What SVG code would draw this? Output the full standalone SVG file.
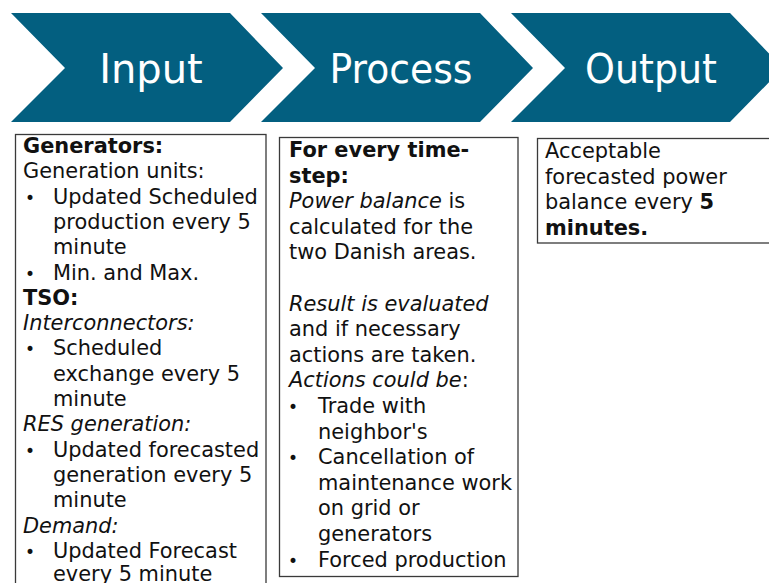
<svg xmlns="http://www.w3.org/2000/svg" width="769" height="583" viewBox="0 0 769 583">
<style>
.chev{fill:#035F80}
.ct{font-family:"DejaVu Sans",Verdana,sans-serif;font-size:40px;fill:#ffffff;text-anchor:middle}
.box{fill:#ffffff;stroke:#3a3a3a;stroke-width:1.3}
.t{font-family:"DejaVu Sans",Verdana,sans-serif;font-size:20.9px;fill:#111111}
.bu{font-size:17px}
.b{font-weight:bold}
.i{font-style:italic}
</style>
<rect width="769" height="583" fill="#ffffff"/>
<g id="input-chevron">
<polygon class="chev" points="11,13 230,13 283,68 230,122 11,122 65,68"/>
<text class="ct" x="151" y="83">Input</text>
</g>
<g id="process-chevron">
<polygon class="chev" points="261,13 480,13 533,68 480,122 261,122 315,68"/>
<text class="ct" x="401" y="83" textLength="143" lengthAdjust="spacingAndGlyphs">Process</text>
</g>
<g id="output-chevron">
<polygon class="chev" points="511,13 730,13 783,68 730,122 511,122 565,68"/>
<text class="ct" x="651" y="83" textLength="132" lengthAdjust="spacingAndGlyphs">Output</text>
</g>
<g id="connectors"></g>
<g id="input-box">
<rect class="box" x="15.5" y="134.5" width="250.5" height="470"/>
<g class="t">
<text x="23" y="153" class="b">Generators:</text>
<text x="23" y="178.3">Generation units:</text>
<text x="25" y="203.6" class="bu">•</text><text x="53" y="203.6">Updated Scheduled</text>
<text x="53" y="228.9">production every 5</text>
<text x="53" y="254.2">minute</text>
<text x="25" y="279.5" class="bu">•</text><text x="53" y="279.5">Min. and Max.</text>
<text x="23" y="304.8" class="b">TSO:</text>
<text x="23" y="330.1" class="i">Interconnectors:</text>
<text x="25" y="355.4" class="bu">•</text><text x="53" y="355.4">Scheduled</text>
<text x="53" y="380.7">exchange every 5</text>
<text x="53" y="406">minute</text>
<text x="23" y="431.3" class="i">RES generation:</text>
<text x="25" y="456.6" class="bu">•</text><text x="53" y="456.6">Updated forecasted</text>
<text x="53" y="481.9">generation every 5</text>
<text x="53" y="507.2">minute</text>
<text x="23" y="532.5" class="i">Demand:</text>
<text x="25" y="557.8" class="bu">•</text><text x="53" y="557.8">Updated Forecast</text>
<text x="53" y="581">every 5 minute</text>
</g>
</g>
<g id="process-box">
<rect class="box" x="279.5" y="137.5" width="238.5" height="439"/>
<g class="t">
<text x="289" y="157" class="b">For every time-</text>
<text x="289" y="182.6" class="b">step:</text>
<text x="289" y="208.2"><tspan class="i">Power balance</tspan> is</text>
<text x="289" y="233.8">calculated for the</text>
<text x="289" y="259.4">two Danish areas.</text>
<text x="289" y="310.6" class="i">Result is evaluated</text>
<text x="289" y="336.2">and if necessary</text>
<text x="289" y="361.8">actions are taken.</text>
<text x="289" y="387.4"><tspan class="i">Actions could be</tspan>:</text>
<text x="288" y="413" class="bu">•</text><text x="318" y="413">Trade with</text>
<text x="318" y="438.6">neighbor's</text>
<text x="288" y="464.2" class="bu">•</text><text x="318" y="464.2">Cancellation of</text>
<text x="318" y="489.8">maintenance work</text>
<text x="318" y="515.4">on grid or</text>
<text x="318" y="541">generators</text>
<text x="288" y="566.6" class="bu">•</text><text x="318" y="566.6">Forced production</text>
</g>
</g>
<g id="output-box">
<rect class="box" x="537.5" y="138.5" width="245" height="104.5"/>
<g class="t">
<text x="545" y="158">Acceptable</text>
<text x="545" y="183.5">forecasted power</text>
<text x="545" y="209">balance every <tspan class="b">5</tspan></text>
<text x="545" y="234.5" class="b">minutes.</text>
</g>
</g>
</svg>
